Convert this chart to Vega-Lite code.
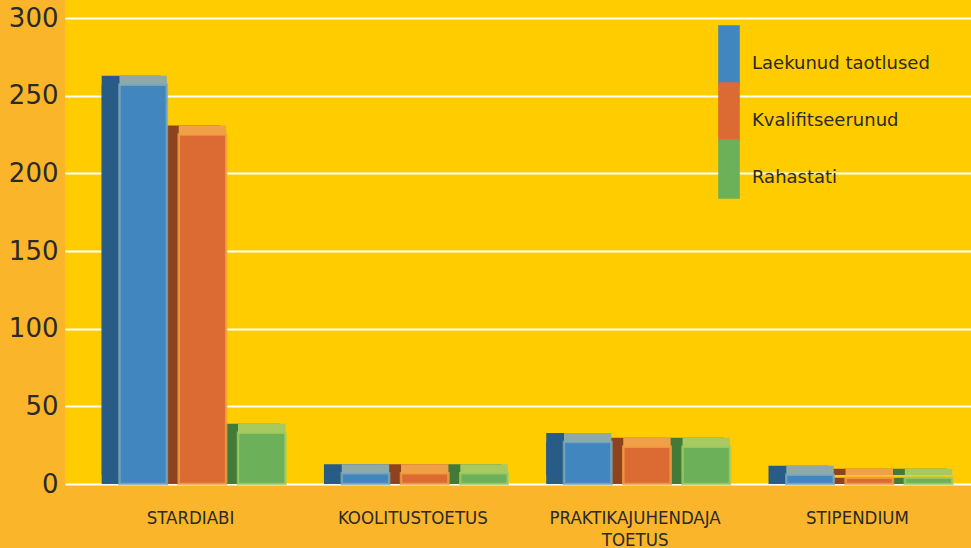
{
  "$schema": "https://vega.github.io/schema/vega-lite/v6.json",
  "autosize": {"type": "none"},
  "padding": {"left": 65, "top": 0, "right": 0, "bottom": 64},
  "width": 918,
  "height": 484,
  "background": "#FBB52A",
  "config": {
    "view": {"fill": "#FFCC00", "stroke": null},
    "font": "Liberation Sans"
  },
  "data": {
    "values": [
      {"cat": "STARDIABI", "series": "Laekunud taotlused", "value": 257},
      {"cat": "STARDIABI", "series": "Kvalifitseerunud", "value": 225},
      {"cat": "STARDIABI", "series": "Rahastati", "value": 33},
      {"cat": "KOOLITUSTOETUS", "series": "Laekunud taotlused", "value": 7},
      {"cat": "KOOLITUSTOETUS", "series": "Kvalifitseerunud", "value": 7},
      {"cat": "KOOLITUSTOETUS", "series": "Rahastati", "value": 7},
      {"cat": "PRAKTIKAJUHENDAJA TOETUS", "series": "Laekunud taotlused", "value": 27},
      {"cat": "PRAKTIKAJUHENDAJA TOETUS", "series": "Kvalifitseerunud", "value": 24},
      {"cat": "PRAKTIKAJUHENDAJA TOETUS", "series": "Rahastati", "value": 24},
      {"cat": "STIPENDIUM", "series": "Laekunud taotlused", "value": 6},
      {"cat": "STIPENDIUM", "series": "Kvalifitseerunud", "value": 4},
      {"cat": "STIPENDIUM", "series": "Rahastati", "value": 4}
    ]
  },
  "encoding": {
    "x": {
      "field": "cat", "type": "nominal", "sort": null, "title": null,
      "scale": {"paddingInner": 0.2, "paddingOuter": 0.165},
      "axis": {
        "domain": false, "ticks": false, "labelAngle": 0,
        "labelFont": "DejaVu Sans Condensed, Liberation Sans", "labelFontSize": 18.5,
        "labelColor": "#2a2a2a", "labelPadding": 24, "labelLineHeight": 22,
        "labelExpr": "datum.label == 'PRAKTIKAJUHENDAJA TOETUS' ? ['PRAKTIKAJUHENDAJA', 'TOETUS'] : datum.label"
      }
    },
    "xOffset": {"field": "series", "type": "nominal", "sort": ["Laekunud taotlused", "Kvalifitseerunud", "Rahastati"]},
    "y": {
      "field": "value", "type": "quantitative", "title": null,
      "scale": {"domain": [0, 311.6], "nice": false, "zero": true},
      "axis": {
        "values": [0, 50, 100, 150, 200, 250, 300],
        "domain": false, "ticks": false,
        "grid": true, "gridColor": "#FFFFFF", "gridWidth": 2, "gridOpacity": 1,
        "labelFont": "DejaVu Sans", "labelFontSize": 26, "labelColor": "#2a2a2a", "labelPadding": 7
      }
    }
  },
  "layer": [
    {
      "mark": {"type": "bar", "yOffset": -9},
      "encoding": {
        "color": {
          "field": "series", "type": "nominal", "legend": null,
          "scale": {"domain": ["Laekunud taotlused", "Kvalifitseerunud", "Rahastati"], "range": ["#285B86", "#8E431E", "#437A37"]}
        }
      }
    },
    {
      "mark": {"type": "bar"},
      "encoding": {
        "color": {
          "field": "series", "type": "nominal", "legend": null,
          "scale": {"domain": ["Laekunud taotlused", "Kvalifitseerunud", "Rahastati"], "range": ["#285B86", "#8E431E", "#437A37"]}
        }
      }
    },
    {
      "mark": {"type": "bar", "width": {"band": 0.8}, "xOffset": 6, "yOffset": -9},
      "encoding": {
        "color": {
          "field": "series", "type": "nominal", "legend": null,
          "scale": {"domain": ["Laekunud taotlused", "Kvalifitseerunud", "Rahastati"], "range": ["#8FA9A8", "#F0A048", "#A8C860"]}
        }
      }
    },
    {
      "mark": {"type": "bar", "width": {"band": 0.8}, "xOffset": 6, "strokeWidth": 2.5, "strokeOpacity": 0.8},
      "encoding": {
        "color": {
          "field": "series", "type": "nominal", "title": null,
          "scale": {"domain": ["Laekunud taotlused", "Kvalifitseerunud", "Rahastati"], "range": ["#4186BE", "#DC6B33", "#6DB05A"]},
          "legend": {
            "orient": "none", "legendX": 637, "legendY": 28,
            "symbolType": "M-0.4,-1.1H0.4V1.1H-0.4Z", "symbolSize": 2916,
            "symbolStrokeWidth": 0, "symbolOpacity": 1,
            "rowPadding": -7, "padding": 0, "labelOffset": -4, "labelBaseline": "top",
            "labelFont": "DejaVu Sans", "labelFontSize": 18, "labelColor": "#2a2a2a", "labelLimit": 300
          }
        },
        "stroke": {
          "field": "series", "type": "nominal", "legend": null,
          "scale": {"domain": ["Laekunud taotlused", "Kvalifitseerunud", "Rahastati"], "range": ["#7FA9B8", "#F4A040", "#A0CC60"]}
        }
      }
    }
  ],
  "resolve": {"scale": {"color": "independent"}}
}
